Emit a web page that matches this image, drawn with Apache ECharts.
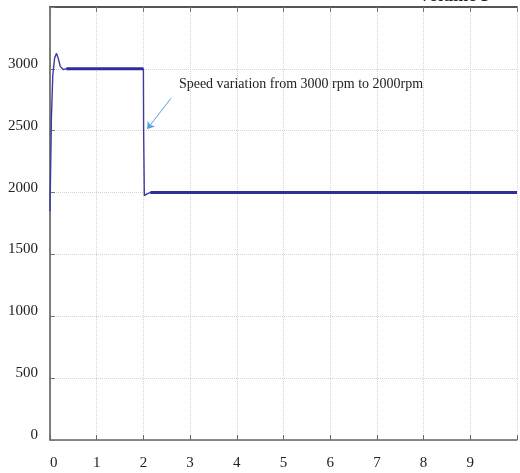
<!DOCTYPE html>
<html>
<head>
<meta charset="utf-8">
<script src="https://cdn.jsdelivr.net/npm/echarts@6/dist/echarts.min.js"></script>
<style>
  html, body { margin: 0; padding: 0; background: #fff; }
  #chart { width: 520px; height: 473px; }
</style>
</head>
<body>
<div id="chart"></div>
<script>
// time (s) and rotor speed (rpm)
const time  = [0, 0.03, 0.06, 0.1, 0.14, 0.18, 0.22, 0.28, 0.35, 2.0, 2.005, 2.02, 2.04, 2.08, 2.15, 10];
const speed = [1850, 2600, 2950, 3090, 3125, 3080, 3020, 2995, 3000, 3000, 2500, 1975, 1972, 1990, 2000, 2000];
const xTicks = [0, 1, 2, 3, 4, 5, 6, 7, 8, 9];
const yTicks = [0, 500, 1000, 1500, 2000, 2500, 3000];
const note = 'Speed variation from 3000 rpm to 2000rpm';

const chart = echarts.init(document.getElementById('chart'));
const serif = '"Liberation Serif", "DejaVu Serif", serif';

// the whole trace, thin
const trace = time.map((t, i) => [t, speed[i]]);
// steady (flat) stretches drawn thicker, as in the scope plot
const steady = time.map((t, i) =>
  (speed[i] === speed[i - 1] || speed[i] === speed[i + 1]) ? [t, speed[i]] : [t, null]);

let option = {
  animation: false,
  backgroundColor: '#fff',
  grid: { left: 50, top: 7, right: -3, bottom: 33 },
  graphic: [{
    type: 'text',
    x: 418,
    y: -13,
    style: { text: 'Volume 5', font: 'bold 18px ' + serif, fill: '#222', verticalAlign: 'top' }
  }],
  xAxis: [
    {
      type: 'value',
      min: 0,
      max: 10,
      interval: 1,
      axisLine: { lineStyle: { color: '#666', width: 1.5 } },
      axisTick: { inside: true, length: 5, lineStyle: { color: '#666' } },
      axisLabel: {
        margin: 16,
        fontFamily: serif,
        fontSize: 15,
        color: '#222',
        alignMinLabel: 'left',
        formatter: v => (xTicks.indexOf(v) >= 0 ? String(v) : '')
      },
      splitLine: { show: true, lineStyle: { color: '#d4d4d4', type: 'dotted' } }
    },
    {
      type: 'value',
      position: 'top',
      min: 0,
      max: 10,
      interval: 1,
      axisLine: { show: true, lineStyle: { color: '#555', width: 2 } },
      axisTick: { inside: true, length: 5, lineStyle: { color: '#777' } },
      axisLabel: { show: false },
      splitLine: { show: false }
    }
  ],
  yAxis: {
    type: 'value',
    min: 0,
    max: 3500,
    interval: 500,
    axisLine: { show: true, lineStyle: { color: '#555', width: 1.5 } },
    axisTick: { show: true, inside: true, length: 5, lineStyle: { color: '#777' } },
    axisLabel: {
      margin: 12,
      fontFamily: serif,
      fontSize: 15,
      color: '#222',
      verticalAlign: 'bottom',
      lineHeight: 10,
      formatter: v => (yTicks.indexOf(v) >= 0 ? String(v) : '')
    },
    splitLine: { show: true, lineStyle: { color: '#d4d4d4', type: 'dotted' } }
  },
  series: [
    {
      type: 'line',
      data: trace,
      showSymbol: false,
      lineStyle: { color: '#3a3aa0', width: 1.4 },
      markLine: {
        silent: true,
        symbol: ['none', 'arrow'],
        symbolSize: 7,
        label: { show: false },
        lineStyle: { color: '#5aa0d8', width: 1, type: 'solid' },
        data: [[{ coord: [2.59, 2762] }, { coord: [2.08, 2513] }]]
      },
      markPoint: {
        silent: true,
        symbolSize: 0,
        label: {
          show: true,
          position: 'right',
          distance: 0,
          formatter: note,
          fontFamily: serif,
          fontSize: 14,
          color: '#222'
        },
        data: [{ coord: [2.76, 2878] }]
      }
    },
    {
      type: 'line',
      data: steady,
      connectNulls: false,
      showSymbol: false,
      lineStyle: { color: '#2e2e98', width: 3 }
    }
  ]
};
chart.setOption(option);
</script>
</body>
</html>
